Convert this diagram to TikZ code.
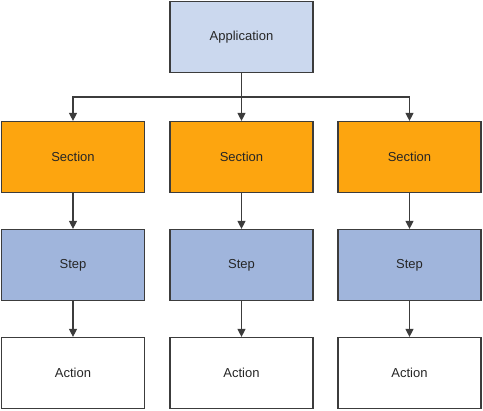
\documentclass[tikz,border=0pt]{standalone}
\usepackage{fontspec}
\setmainfont{Liberation Sans}
\usetikzlibrary{arrows.meta}
\definecolor{appblue}{HTML}{CBD8EE}
\definecolor{secorange}{HTML}{FDA50F}
\definecolor{stepblue}{HTML}{A0B5DC}
\definecolor{edgegray}{HTML}{3C3C3C}
\begin{document}
\begin{tikzpicture}[x=1pt,y=-1pt,
  box/.style={draw=edgegray,line width=1.2pt,minimum width=143pt,minimum height=71pt,inner sep=0pt,font=\fontsize{13}{15}\selectfont,text=black!85},
  conn/.style={draw=edgegray,line width=1.2pt,-{Triangle[length=8pt,width=8pt]}}]
\useasboundingbox (0,0) rectangle (483,411);
\node[box,fill=appblue] (app) at (241.5,37) {Application};
\foreach \i/\x in {1/73,2/241.5,3/409.5}{
  \node[box,fill=secorange] (sec\i) at (\x,157) {Section};
  \node[box,fill=stepblue] (step\i) at (\x,265) {Step};
  \node[box,fill=white] (act\i) at (\x,373) {Action};
  \draw[conn] (sec\i) -- (step\i);
  \draw[conn] (step\i) -- (act\i);
}
\coordinate (bus) at (241.5,97);
\draw[conn] (app.south) -- (sec2.north);
\draw[conn] (app.south) |- (bus) -| (sec1.north);
\draw[conn] (app.south) |- (bus) -| (sec3.north);
\end{tikzpicture}
\end{document}
